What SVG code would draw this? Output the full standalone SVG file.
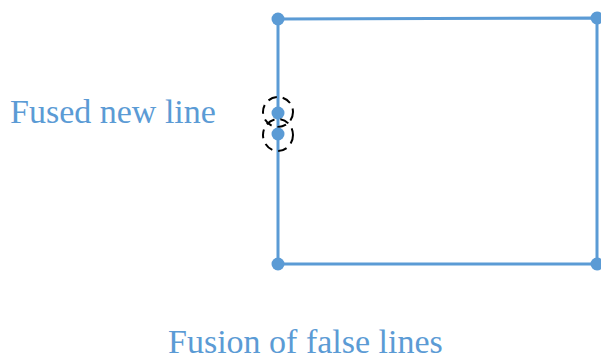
<svg xmlns="http://www.w3.org/2000/svg" width="601" height="361" viewBox="0 0 601 361">
<style>
.ln{stroke:#5B9BD5;stroke-width:3;fill:none}
.dot{fill:#5B9BD5}
.ring{fill:none;stroke:#000;stroke-width:2;stroke-dasharray:9 6}
.lbl{font-family:"Liberation Serif","Times New Roman",serif;font-size:34px;fill:#5B9BD5}
</style>
<rect width="601" height="361" fill="#fff"/>
<g id="connectors">
<path class="ln" d="M278 19 L597 18 L597 264 L278 264 Z"/>
</g>
<g id="corner-tl"><circle class="dot" cx="278" cy="19" r="6.5"/></g>
<g id="corner-tr"><circle class="dot" cx="597" cy="18" r="6.5"/></g>
<g id="corner-bl"><circle class="dot" cx="278" cy="264" r="6.5"/></g>
<g id="corner-br"><circle class="dot" cx="597" cy="264" r="6.5"/></g>
<g id="fused-upper">
<ellipse class="ring" cx="278" cy="112" rx="15" ry="15"/>
<circle class="dot" cx="278" cy="113" r="6.5"/>
</g>
<g id="fused-lower">
<ellipse class="ring" cx="278" cy="135" rx="15" ry="16"/>
<circle class="dot" cx="278" cy="134" r="6.5"/>
</g>
<g id="label-fused"><text class="lbl" x="10" y="123">Fused new line</text></g>
<g id="caption"><text class="lbl" x="168" y="353">Fusion of false lines</text></g>
</svg>
